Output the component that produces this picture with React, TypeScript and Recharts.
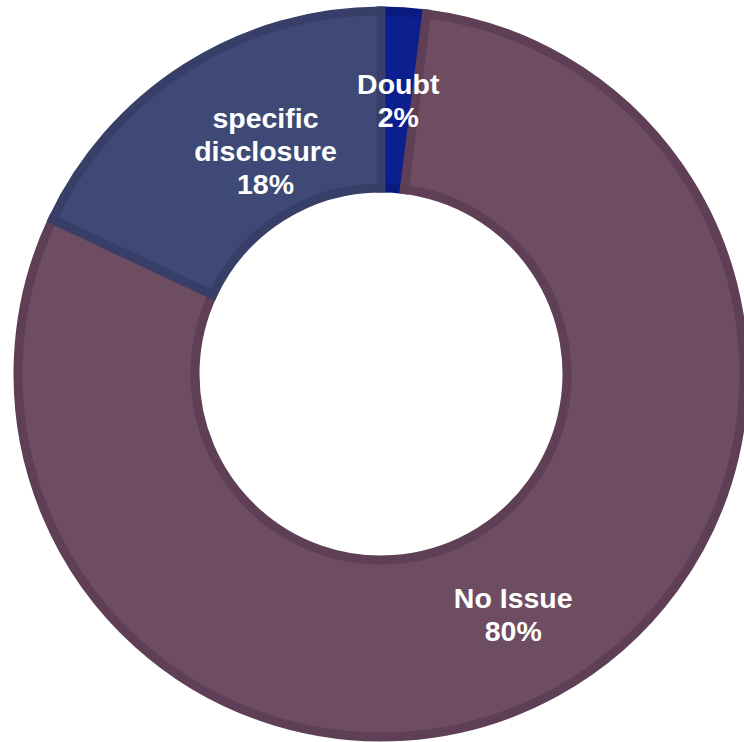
import React from 'react';
import { PieChart, Pie, Cell } from 'recharts';

const categories = ['Doubt', 'No Issue', 'specific disclosure'];
const shares = [2, 80, 18];
const labelLines = [['Doubt', '2%'], ['No Issue', '80%'], ['specific', 'disclosure', '18%']];

const FILLS = ['#0c1f8e', '#6e4c62', '#3e4a75'];
const STROKES = ['#0a1a80', '#5f3f55', '#373f69'];

const data = categories.map((name, i) => ({ name, value: shares[i], lines: labelLines[i] }));

const FONT = '"Liberation Sans", Arial, sans-serif';

const renderLabel = (props: any) => {
  const { cx, cy, midAngle, innerRadius, outerRadius, index } = props;
  // specific disclosure sits a bit further in and closer to the top, like Office places it
  const ang = index === 2 ? midAngle - 5 : midAngle;
  const rad = (Math.PI / 180) * ang;
  const r = index === 2 ? 251 : (innerRadius + outerRadius) / 2;
  const x = cx + r * Math.cos(rad);
  const y = cy - r * Math.sin(rad);
  const lines: string[] = data[index].lines;
  const lh = 33;
  const top = y - ((lines.length - 1) * lh) / 2;
  return (
    <text
      x={x}
      y={top}
      fill="#ffffff"
      textAnchor="middle"
      dominantBaseline="central"
      style={{ fontFamily: FONT, fontSize: 28.5, fontWeight: 700 }}
    >
      {lines.map((l, i) => (
        <tspan key={i} x={x} y={top + i * lh}>
          {l}
        </tspan>
      ))}
    </text>
  );
};

export default function App() {
  return (
    <div style={{ position: 'absolute', left: 0, top: 0, width: 744, height: 742, background: '#fff' }}>
      <PieChart width={744} height={742} margin={{ top: 0, right: 0, bottom: 0, left: 0 }}>
        <Pie
          data={data}
          dataKey="value"
          nameKey="name"
          cx={381}
          cy={374}
          innerRadius={186}
          outerRadius={363}
          startAngle={90}
          endAngle={-270}
          label={renderLabel}
          labelLine={false}
          isAnimationActive={false}
        >
          {data.map((_, i) => (
            <Cell key={i} fill={FILLS[i]} stroke={STROKES[i]} strokeWidth={9} />
          ))}
        </Pie>
      </PieChart>
    </div>
  );
}
